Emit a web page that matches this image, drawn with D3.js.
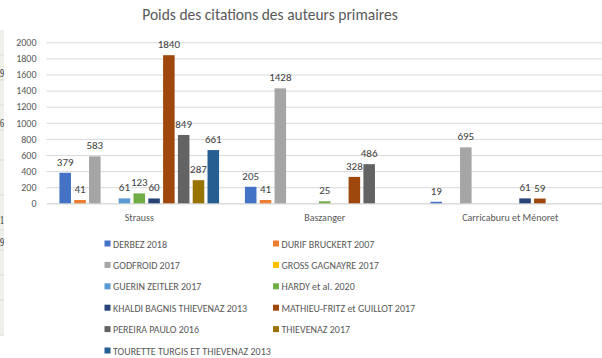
<!DOCTYPE html>
<html>
<head>
<meta charset="utf-8">
<script src="https://cdn.jsdelivr.net/npm/d3@7"></script>
<style>
  html, body { margin: 0; padding: 0; background: #fff; }
  svg { display: block; font-family: Carlito, Calibri, Lato, "Open Sans", sans-serif; }
</style>
</head>
<body>
<svg id="chart" width="602" height="358"></svg>
<script>
// Categories (primary authors) and the cited works compared within each
const categories = ["Strauss", "Baszanger", "Carricaburu et Ménoret"];
const seriesNames = [
  "DERBEZ 2018", "DURIF BRUCKERT 2007", "GODFROID 2017", "GROSS GAGNAYRE 2017",
  "GUERIN ZEITLER 2017", "HARDY et al. 2020", "KHALDI BAGNIS THIEVENAZ 2013",
  "MATHIEU-FRITZ et GUILLOT 2017", "PEREIRA PAULO 2016", "THIEVENAZ 2017",
  "TOURETTE TURGIS ET THIEVENAZ 2013"
];
const seriesColors = [
  "#4472C4", "#ED7D31", "#A5A5A5", "#FFC000", "#5B9BD5", "#70AD47",
  "#264478", "#9E480E", "#636363", "#997300", "#255E91"
];
// Citation counts per series, one value per category (null = no citation)
const derbez    = [379, 205, 19];
const durif     = [41, 41, null];
const godfroid  = [583, 1428, 695];
const gross     = [null, null, null];
const guerin    = [61, null, null];
const hardy     = [123, 25, null];
const khaldi    = [60, null, 61];
const mathieu   = [1840, 328, 59];
const pereira   = [849, 486, null];
const thievenaz = [287, null, null];
const tourette  = [661, null, null];
const seriesValues = [derbez, durif, godfroid, gross, guerin, hardy, khaldi,
                      mathieu, pereira, thievenaz, tourette];
const yTicks = [0, 200, 400, 600, 800, 1000, 1200, 1400, 1600, 1800, 2000];

const svg = d3.select("#chart");

// Spreadsheet column peeking in at the left edge
const strip = svg.append("g");
strip.append("rect").attr("x", 0).attr("y", 30).attr("width", 4).attr("height", 305)
  .attr("fill", "#eef1ea");
[55, 80, 105, 130, 160, 195, 230, 250, 275, 300, 335].forEach(y => {
  strip.append("line").attr("x1", 0).attr("x2", 4).attr("y1", y).attr("y2", y)
    .attr("stroke", "#d6dbd0").attr("stroke-width", 1);
});
[["9", 77], ["6", 127], ["1", 224], ["9", 246]].forEach(([t, y]) => {
  strip.append("text").attr("x", 0).attr("y", y)
    .attr("textLength", 4).attr("lengthAdjust", "spacingAndGlyphs")
    .attr("font-family", "Liberation Serif, serif").attr("font-size", 13)
    .attr("fill", "#222").text(t);
});

const plot = { left: 46.5, right: 603, top: 42.3, bottom: 203.3 };

const x0 = d3.scaleBand().domain(categories)
  .range([plot.left, plot.right]).paddingInner(0).paddingOuter(0);
const x1 = d3.scaleBand().domain(d3.range(seriesNames.length))
  .range([11.3, x0.bandwidth() - 11.3]).paddingInner(0.22).paddingOuter(0.11);
const y = d3.scaleLinear().domain([0, 2000]).range([plot.bottom, plot.top]);

// Title
svg.append("text").attr("x", 270).attr("y", 20).attr("text-anchor", "middle")
  .attr("font-size", 15.5).attr("fill", "#595959")
  .text("Poids des citations des auteurs primaires");

// Gridlines and y axis labels
const yAxis = d3.axisLeft(y).tickValues(yTicks)
  .tickSize(-(plot.right - plot.left)).tickPadding(10).tickFormat(d3.format("d"));
const yg = svg.append("g").attr("transform", `translate(${plot.left},0)`).call(yAxis);
yg.select(".domain").remove();
yg.selectAll(".tick line").attr("stroke", "#d9d9d9").attr("stroke-width", 1);
yg.selectAll(".tick text").attr("fill", "#595959").attr("font-size", 10)
  .attr("font-family", "Carlito, Calibri, Lato, sans-serif");

// Category labels
const xAxis = d3.axisBottom(x0).tickSize(0).tickPadding(11);
const xg = svg.append("g").attr("transform", `translate(0,${plot.bottom})`).call(xAxis);
xg.select(".domain").attr("stroke", "#d9d9d9");
xg.selectAll(".tick text").attr("fill", "#595959").attr("font-size", 10)
  .attr("font-family", "Carlito, Calibri, Lato, sans-serif");

// Bars and value labels
const bars = [];
categories.forEach((c, ci) => {
  seriesValues.forEach((vals, si) => {
    const v = vals[ci];
    if (v != null) bars.push({ c, si, v });
  });
});
const g = svg.append("g");
g.selectAll("rect.bar").data(bars).join("rect").attr("class", "bar")
  .attr("x", d => x0(d.c) + x1(d.si))
  .attr("y", d => y(d.v))
  .attr("width", x1.bandwidth())
  .attr("height", d => y(0) - y(d.v))
  .attr("fill", d => seriesColors[d.si]);
g.selectAll("text.val").data(bars).join("text").attr("class", "val")
  .attr("x", d => x0(d.c) + x1(d.si) + x1.bandwidth() / 2)
  .attr("y", d => y(d.v) - 7)
  .attr("text-anchor", "middle").attr("font-size", 11).attr("fill", "#404040")
  .text(d => d.v);

// Legend in two columns
const legend = svg.append("g");
const colX = [104.5, 273];
seriesNames.forEach((name, i) => {
  const cx = colX[i % 2];
  const cy = 244 + Math.floor(i / 2) * 21.4;
  legend.append("rect").attr("x", cx).attr("y", cy - 3.5).attr("width", 6).attr("height", 6)
    .attr("fill", seriesColors[i]);
  legend.append("text").attr("x", cx + 8.5).attr("y", cy).attr("dy", "0.35em")
    .attr("font-size", 10).attr("fill", "#595959").text(name);
});
</script>
</body>
</html>
